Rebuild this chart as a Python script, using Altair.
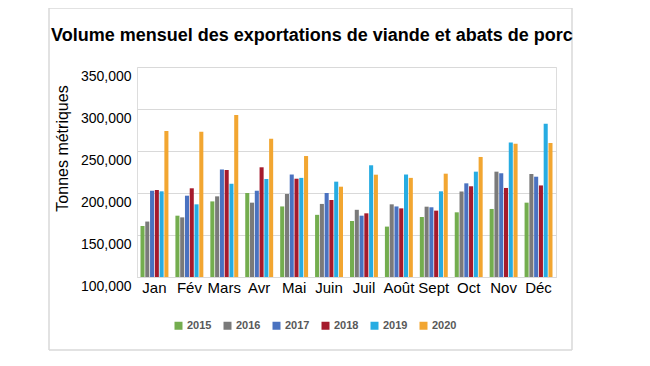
import altair as alt
import pandas as pd

months = ["Jan", "Fév", "Mars", "Avr", "Mai", "Juin", "Juil", "Août", "Sept", "Oct", "Nov", "Déc"]
years = ["2015", "2016", "2017", "2018", "2019", "2020"]
v2015 = [160700, 173000, 190000, 200000, 184000, 174000, 166700, 160000, 171400, 177000, 181000, 188500]
v2016 = [166000, 171000, 196000, 188500, 198800, 187000, 180000, 186500, 183700, 201800, 225400, 222600]
v2017 = [202700, 196800, 228000, 202700, 222000, 200000, 173000, 184000, 183000, 211500, 223500, 219400]
v2018 = [203600, 205600, 227400, 230600, 217000, 191700, 175800, 181700, 179000, 208000, 206000, 209000]
v2019 = [202000, 186500, 211000, 216700, 218000, 213500, 233000, 222000, 202000, 225400, 260000, 282500]
v2020 = [273800, 273000, 292900, 264600, 244000, 207500, 221800, 218000, 223000, 242900, 258700, 259500]
colors = ["#74ad4f", "#7a7a7a", "#4a72c0", "#a51a2c", "#27ace2", "#f2a631"]

series = [v2015, v2016, v2017, v2018, v2019, v2020]
rows = []
for yr, vals in zip(years, series):
    for m, v in zip(months, vals):
        rows.append({"Mois": m, "Année": yr, "Volume": v, "Base": 100000})
df = pd.DataFrame(rows)

font = "Liberation Sans"

bars = alt.Chart(df).mark_bar().encode(
    x=alt.X("Mois:N", sort=months,
            scale=alt.Scale(paddingInner=0.2, paddingOuter=0.1),
            axis=alt.Axis(title=None, labelAngle=0, labelFontSize=15, labelColor="#000000",
                          labelFont=font, ticks=False, domain=True, domainColor="#d9d9d9",
                          labelPadding=3)),
    xOffset=alt.XOffset("Année:N", sort=years, scale=alt.Scale(paddingInner=0.15)),
    y=alt.Y("Volume:Q",
            scale=alt.Scale(domain=[100000, 350000], nice=False, zero=False),
            axis=alt.Axis(title="Tonnes métriques", values=[100000, 150000, 200000, 250000, 300000, 350000],
                          format=",d", labelFontSize=14, labelColor="#000000", labelFont=font,
                          ticks=False, domain=False, gridColor="#d9d9d9", labelOffset=9,
                          labelPadding=6, titleFont=font, titleFontSize=16, titleFontWeight="normal",
                          titleColor="#000000", titleX=-75, titleY=81, titleBaseline="middle",
                          titleAngle=270)),
    y2=alt.Y2("Base:Q"),
    color=alt.Color("Année:N", sort=years,
                    scale=alt.Scale(domain=years, range=colors),
                    legend=alt.Legend(title=None, orient="none", direction="horizontal",
                                      legendX=36, legendY=253, symbolType="square",
                                      symbolSize=64, symbolStrokeWidth=0, labelFontSize=11,
                                      labelFontWeight="bold", labelColor="#595959",
                                      labelFont=font, columnPadding=10, symbolOffset=0,
                                      labelOffset=3)),
)

# decorative frame around the whole figure (in pixel units of the plot group)
fdf = pd.DataFrame({"k": [0]})
edge = alt.Chart(fdf).mark_rule(color="#d9d9d9", strokeWidth=1.5)
left = edge.encode(x=alt.value(-88), y=alt.value(-60), y2=alt.value(283))
right = edge.encode(x=alt.value(435), y=alt.value(-60), y2=alt.value(283))
top = edge.encode(x=alt.value(-88), x2=alt.value(435), y=alt.value(-59))
bottom = edge.encode(x=alt.value(-88), x2=alt.value(435), y=alt.value(283))

chart = alt.layer(left, right, top, bottom, bars).properties(
    width=419, height=210,
    autosize=alt.AutoSizeParams(type="none"),
    padding={"left": 129, "top": 59, "right": 86, "bottom": 81},
    title=alt.TitleParams("Volume mensuel des exportations de viande et abats de porc",
                          anchor="start", frame="group", dx=-86, offset=0, dy=39,
                          font=font, fontSize=18, fontWeight="bold", color="#000000"),
).configure_view(stroke=None).configure(background="#ffffff")

chart.save("out.html", embed_options={"renderer": "svg", "actions": False})
